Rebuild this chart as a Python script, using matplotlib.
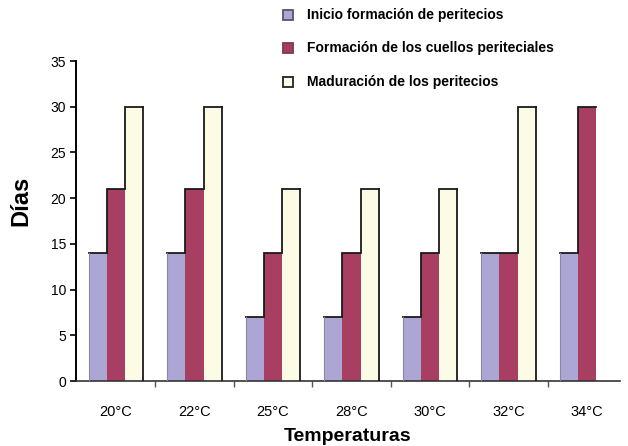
import matplotlib
matplotlib.use("Agg")
import matplotlib.pyplot as plt
import numpy as np
from matplotlib.patches import Rectangle

categories = ["20°C", "22°C", "25°C", "28°C", "30°C", "32°C", "34°C"]
inicio = [14, 14, 7, 7, 7, 14, 14]
cuellos = [21, 21, 14, 14, 14, 14, 30]
maduracion = [30, 30, 21, 21, 21, 30, 0]
series_names = ["Inicio formación de peritecios",
                "Formación de los cuellos periteciales",
                "Maduración de los peritecios"]
y_ticks = [0, 5, 10, 15, 20, 25, 30, 35]

c_purple = "#aca6d4"
c_red = "#a83f63"
c_cream = "#fcfce6"

plt.rcParams["font.family"] = ["Liberation Sans", "DejaVu Sans"]

W, H = 628, 446
fig = plt.figure(figsize=(W / 100, H / 100), dpi=100)
ax = fig.add_axes([0.121, 0.1457, 0.866, 0.7175])

x = np.arange(len(categories))
w = 0.232
offsets = [-w, 0, w]
all_series = [inicio, cuellos, maduracion]
colors = [c_purple, c_red, c_cream]

for vals, off, col in zip(all_series, offsets, colors):
    ax.bar(x + off, vals, width=w, color=col, edgecolor="none", zorder=2)

# stepped outline across the tops of each group
for i in range(len(categories)):
    xs, ys = [], []
    for k, vals in enumerate(all_series):
        if vals[i] <= 0:
            continue
        l = x[i] + offsets[k] - w / 2
        xs += [l, l + w]
        ys += [vals[i], vals[i]]
    ax.plot(xs, ys, color="#1a1a1a", lw=1.3, zorder=3, solid_joinstyle="miter")
    last = max(k for k in range(3) if all_series[k][i] > 0)
    if last == 2:
        rx = x[i] + offsets[last] + w / 2
        ax.plot([rx, rx], [0, all_series[last][i]], color="#1a1a1a", lw=1.3, zorder=3)
    lx = x[i] + offsets[0] - w / 2
    ax.plot([lx, lx], [0, inicio[i]], color="#8a86a8", lw=0.8, zorder=3)

ax.set_xlim(-0.51, 6.42)
ax.set_ylim(0, 35)
ax.set_yticks(y_ticks)
ax.set_yticklabels([str(t) for t in y_ticks], fontsize=10)
ax.set_xticks(x)
ax.set_xticklabels(categories, fontsize=10.5)
ax.tick_params(axis="x", length=0, pad=17)
ax.tick_params(axis="y", direction="out", length=4, width=1.2, pad=3)
ax.set_xticks(x[:-1] + 0.5, minor=True)
ax.tick_params(axis="x", which="minor", direction="out", length=4, width=1, color="#555555")

for s in ["top", "right"]:
    ax.spines[s].set_visible(False)
ax.spines["left"].set_linewidth(1.4)
ax.spines["bottom"].set_linewidth(1.2)
ax.spines["bottom"].set_color("#333333")

ax.set_ylabel("Días", fontsize=17, fontweight="bold")
ax.yaxis.set_label_coords(-0.081, 0.5625)
ax.set_xlabel("Temperaturas", fontsize=14, fontweight="bold", labelpad=7)

# legend drawn in figure pixel coordinates
rows_y = [15, 48, 82]
edge_cols = ["#555566", "#7a3a50", "#222222"]
for yy, name, fc, ec in zip(rows_y, series_names, colors, edge_cols):
    fig.patches.append(Rectangle(((283) / W, 1 - (yy + 5) / H), 10 / W, 10 / H,
                                 facecolor=fc, edgecolor=ec, lw=1.3,
                                 transform=fig.transFigure, figure=fig))
    fig.text(307 / W, 1 - yy / H, name, fontsize=10, fontweight="bold",
             va="center", ha="left")

fig.savefig("out.png", dpi=100, facecolor="white")
